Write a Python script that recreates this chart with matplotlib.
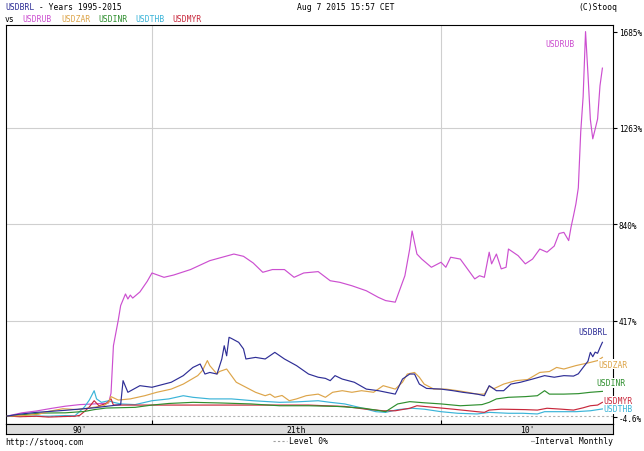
import matplotlib
matplotlib.use("Agg")
import matplotlib.pyplot as plt

# ---------------- data (percent change vs Jan 1995) ----------------
rub_dates = ["1995-01","1995-07","1996-01","1996-07","1997-01","1997-07","1998-01","1998-07","1998-08",
             "1998-09","1998-11","1998-12","1999-02","1999-03","1999-04","1999-05","1999-08","1999-11",
             "2000-01","2000-06","2000-10","2001-05","2002-01","2002-11","2003-03","2003-07","2003-11",
             "2004-03","2004-08","2004-12","2005-04","2005-10","2006-03","2006-07","2006-12","2007-06",
             "2007-11","2008-02","2008-06","2008-10","2008-12","2009-01","2009-03","2009-05","2009-09",
             "2010-01","2010-03","2010-05","2010-09","2011-03","2011-05","2011-07","2011-09","2011-10",
             "2011-12","2012-02","2012-04","2012-05","2012-09","2012-12","2013-03","2013-06","2013-09",
             "2013-12","2014-02","2014-04","2014-06","2014-07","2014-08","2014-09","2014-10","2014-11",
             "2014-12","2015-01","2015-02","2015-03","2015-04","2015-05","2015-06","2015-07","2015-08"]
rub_vals = [0, 14, 22, 33, 43, 50, 53, 57, 100,
            308, 420, 484, 535, 513, 530, 517, 544, 590,
            627, 608, 618, 642, 681, 710, 700, 671, 630,
            642, 642, 608, 627, 633, 593, 586, 571, 549,
            520, 506, 499, 615, 732, 811, 710, 688, 652,
            674, 652, 696, 688, 601, 615, 608, 718, 667,
            710, 645, 652, 732, 703, 667, 688, 732, 718,
            745, 800, 805, 769, 829, 878, 930, 1000, 1245,
            1400, 1685, 1500, 1300, 1215, 1258, 1302, 1448, 1525]

brl_dates = ["1995-01","1995-06","1996-01","1997-01","1998-01","1998-12","1999-01","1999-03","1999-08",
             "2000-01","2000-09","2001-02","2001-06","2001-09","2001-11","2002-01","2002-04","2002-06",
             "2002-07","2002-08","2002-09","2002-10","2003-01","2003-03","2003-04","2003-08","2003-12",
             "2004-04","2004-08","2005-01","2005-06","2005-10","2006-01","2006-03","2006-05","2006-08",
             "2007-01","2007-06","2007-11","2008-06","2008-09","2008-12","2009-02","2009-04","2009-07",
             "2010-01","2010-06","2010-10","2011-04","2011-07","2011-09","2011-12","2012-03","2012-06",
             "2012-10","2013-03","2013-08","2013-12","2014-04","2014-08","2014-10","2014-12","2015-02",
             "2015-03","2015-04","2015-05","2015-06","2015-07","2015-08"]
brl_vals = [0, 8, 16, 25, 36, 50, 155, 104, 133,
            126, 148, 177, 213, 228, 184, 191, 184, 250,
            308, 264, 345, 340, 323, 294, 250, 257, 250,
            279, 250, 221, 184, 170, 165, 155, 177, 162,
            148, 118, 111, 96, 162, 184, 184, 140, 121,
            118, 111, 104, 96, 89, 133, 111, 111, 140,
            148, 162, 177, 170, 177, 175, 185, 213, 240,
            279, 260, 280, 275, 300, 323]

zar_dates = ["1995-01","1995-08","1996-02","1996-06","1996-12","1997-06","1997-12","1998-05","1998-07",
             "1998-08","1998-11","1999-04","1999-10","2000-03","2000-09","2001-02","2001-08","2001-10",
             "2001-12","2002-01","2002-04","2002-05","2002-08","2002-12","2003-04","2003-08","2003-12",
             "2004-02","2004-04","2004-07","2004-10","2005-01","2005-05","2005-10","2006-01","2006-04",
             "2006-08","2006-12","2007-04","2007-09","2008-01","2008-06","2008-09","2008-11","2009-02",
             "2009-04","2009-06","2009-10","2010-03","2010-08","2010-12","2011-04","2011-07","2011-09",
             "2011-11","2012-03","2012-08","2013-01","2013-06","2013-10","2014-01","2014-04","2014-09",
             "2014-12","2015-03","2015-06","2015-08"]
zar_vals = [0, 2, 8, 20, 32, 28, 37, 45, 60,
            85, 70, 75, 89, 104, 118, 140, 177, 200,
            243, 221, 184, 195, 206, 148, 126, 104, 89,
            96, 82, 90, 67, 75, 89, 96, 82, 104,
            111, 104, 111, 104, 133, 118, 148, 184, 191,
            170, 140, 118, 118, 111, 104, 96, 96, 130,
            120, 140, 155, 160, 191, 195, 213, 206, 221,
            228, 235, 243, 257]

inr_dates = ["1995-01","1995-10","1996-03","1997-01","1997-09","1998-01","1998-06","1999-06","2000-01",
             "2000-08","2001-06","2002-06","2003-06","2004-06","2005-06","2006-06","2007-05","2007-10",
             "2008-02","2008-07","2008-12","2009-06","2010-01","2010-09","2011-06","2011-09","2011-12",
             "2012-05","2012-12","2013-05","2013-08","2013-10","2014-04","2014-10","2015-03","2015-08"]
inr_vals = [0, 8, 13, 14, 20, 28, 35, 38, 48,
            55, 60, 57, 53, 45, 45, 42, 34, 26,
            19, 53, 63, 58, 53, 45, 50, 60, 75,
            82, 85, 89, 111, 96, 96, 98, 104, 108]

thb_dates = ["1995-01","1995-06","1996-01","1996-06","1997-01","1997-05","1997-07","1997-09","1997-11",
             "1998-01","1998-02","1998-04","1998-07","1998-09","1998-12","1999-06","2000-01","2000-08",
             "2001-02","2001-06","2002-01","2002-10","2003-07","2004-06","2005-01","2005-10","2006-03",
             "2006-09","2007-03","2007-10","2008-02","2008-07","2009-01","2009-06","2010-01","2010-08",
             "2011-04","2011-09","2012-05","2012-11","2013-05","2013-08","2014-02","2014-09","2015-03",
             "2015-08"]
thb_vals = [0, -2, 0, -1, 2, 1, 20, 40, 70,
            111, 75, 60, 67, 60, 53, 50, 67, 75,
            89, 82, 75, 75, 67, 60, 62, 67, 60,
            53, 38, 19, 16, 28, 34, 30, 19, 12,
            9, 16, 12, 12, 9, 19, 19, 19, 23,
            31]

myr_dates = ["1995-01","1995-06","1996-01","1996-06","1997-01","1997-05","1997-07","1997-09","1997-11",
             "1998-01","1998-03","1998-06","1998-08","1998-09","1999-01","2005-06","2006-01","2006-09",
             "2007-05","2008-01","2008-06","2008-12","2009-03","2009-10","2010-06","2011-04","2011-07",
             "2011-09","2012-02","2012-12","2013-05","2013-09","2014-03","2014-08","2014-12","2015-03",
             "2015-06","2015-08"]
myr_vals = [0, -3, -1, -4.6, -2, -1, 3, 20, 40,
            67, 45, 55, 75, 48, 48, 48, 45, 42,
            31, 23, 23, 34, 45, 38, 30, 19, 16,
            26, 30, 28, 26, 34, 30, 26, 36, 45,
            48, 60]

ytick_vals = [1685, 1263, 840, 417, -4.6]
ytick_labels = ["1685%", "1263%", "840%", "417%", "-4.6%"]
grid_y = [1263, 840, 417]
grid_x = [2000, 2010]
era_labels = ["90'", "21th", "10'"]
era_centers = [1997.5, 2005.0, 2013.0]


def to_year(s):
    return int(s[:4]) + (int(s[5:7]) - 1) / 12.0


series = [
    ("USDRUB", rub_dates, rub_vals, "#cc4fd0"),
    ("USDTHB", thb_dates, thb_vals, "#3ab4d8"),
    ("USDMYR", myr_dates, myr_vals, "#c8283c"),
    ("USDINR", inr_dates, inr_vals, "#2f8f2f"),
    ("USDZAR", zar_dates, zar_vals, "#dda54a"),
    ("USDBRL", brl_dates, brl_vals, "#2e2e96"),
]
colors = {name: c for name, _, _, c in series}

# ---------------- figure ----------------
W, H = 644, 452
MONO = "DejaVu Sans Mono"
FS = 5.8
fig = plt.figure(figsize=(W / 100, H / 100), dpi=100)
fig.patch.set_facecolor("white")


def rect(x0, y0, w, h):
    return [x0 / W, 1 - (y0 + h) / H, w / W, h / H]


def ftext(x, y, s, **kw):
    kw.setdefault("fontsize", FS)
    kw.setdefault("family", MONO)
    kw.setdefault("va", "center")
    fig.text(x / W, 1 - y / H, s, **kw)


ax = fig.add_axes(rect(6, 26, 607, 399))
ax.set_xlim(1994.95, 2015.95)
ax.set_ylim(-35, 1714)

for g in grid_y:
    ax.axhline(g, color="#cfcfcf", lw=0.8, zorder=1)
for g in grid_x:
    ax.axvline(g, color="#cfcfcf", lw=0.8, zorder=1)
ax.axhline(0, color="#b0b0b0", lw=0.8, ls=(0, (2, 2)), zorder=1)

for name, d, v, c in series:
    ax.plot([to_year(s) for s in d], v, color=c, lw=0.85, zorder=3)

# series labels (positions in data coords)
label_pos = {
    "USDRUB": (2013.6, 1631, "left"),
    "USDBRL": (2015.78, 370, "right"),
    "USDZAR": (2015.43, 228, "left"),
    "USDINR": (2015.37, 145, "left"),
    "USDMYR": (2015.61, 66, "left"),
    "USDTHB": (2015.61, 31, "left"),
}
for name, (lx, ly, ha) in label_pos.items():
    ax.text(lx, ly, name, color=colors[name], fontsize=FS, family=MONO,
            ha=ha, va="center", zorder=6, clip_on=False,
            bbox=dict(facecolor="white", edgecolor="none", pad=0.3))

ax.yaxis.tick_right()
ax.set_yticks(ytick_vals)
ax.set_yticklabels(ytick_labels, family=MONO, fontsize=5.6)
ax.tick_params(axis="y", direction="out", length=3, width=0.8, pad=1, colors="black")
ax.set_xticks(grid_x)
ax.tick_params(axis="x", direction="in", length=3, width=0.8, labelbottom=False)
for sp in ax.spines.values():
    sp.set_color("black")
    sp.set_linewidth(0.8)
ax.set_facecolor("white")

# bottom era band
band = fig.add_axes(rect(6, 425, 607, 10))
band.set_facecolor("#dcdcdc")
band.set_xlim(ax.get_xlim())
band.set_ylim(0, 1)
band.set_xticks([])
band.set_yticks([])
for sp in band.spines.values():
    sp.set_color("black")
    sp.set_linewidth(0.8)
for lab, cx in zip(era_labels, era_centers):
    band.text(cx, 0.45, lab, ha="center", va="center", fontsize=FS, family=MONO)

# header
CW = FS * 0.602 * 100 / 72
ftext(5, 7, "USDBRL", color="#2e2e96")
ftext(5 + 6 * CW, 7, " - Years 1995-2015", color="black")
ftext(346, 7, "Aug 7 2015 15:57 CET", ha="center")
ftext(617, 7, "(C)Stooq", ha="right")
ftext(5, 19, "vs")
for name, cx in zip(["USDRUB", "USDZAR", "USDINR", "USDTHB", "USDMYR"],
                    [22.7, 61.2, 98, 135, 172.7]):
    ftext(cx, 19, name, color=colors[name])

# footer
ftext(5, 443, "http://stooq.com")
fig.add_artist(plt.Line2D([273 / W, 287 / W], [1 - 442 / H, 1 - 442 / H],
                          color="#a0a0a0", lw=0.8, ls=(0, (2, 2))))
ftext(289, 442, "Level 0%")
fig.add_artist(plt.Line2D([531 / W, 534 / W], [1 - 442 / H, 1 - 442 / H],
                          color="#a0a0a0", lw=0.8))
ftext(535, 442, "Interval Monthly")

fig.savefig("out.png", dpi=100, facecolor="white")
